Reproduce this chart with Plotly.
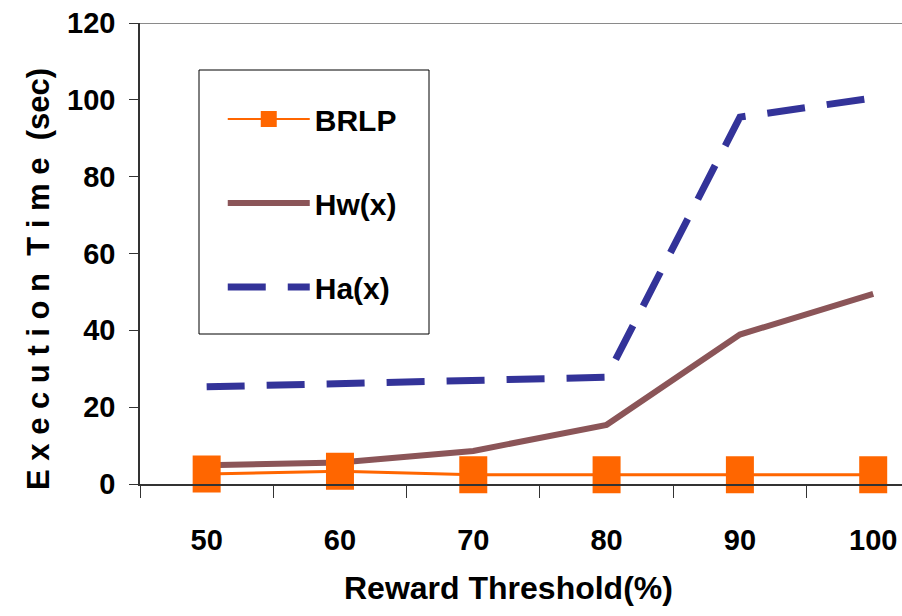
import plotly.graph_objects as go

# Reward threshold categories (%)
thresholds = ["50", "60", "70", "80", "90", "100"]

# Execution time in seconds for each method
brlp = [2.6, 3.3, 2.4, 2.4, 2.4, 2.4]
hw = [4.9, 5.6, 8.6, 15.4, 38.9, 49.5]
ha = [25.3, 26.0, 27.0, 27.8, 95.5, 100.5]

FONT = "Liberation Sans, Arial, sans-serif"
ORANGE = "#FF6600"
BROWN = "#8B5558"
NAVY = "#333399"

# plot area in pixels
L, R, T, B = 140, 0, 23, 132
W, H = 902, 616
PW, PH = W - L - R, H - T - B


def px(x):
    return (x - L) / PW


def py(y):
    return (H - B - y) / PH


fig = go.Figure()

# Ha(x): dashed navy line
fig.add_trace(go.Scatter(
    x=thresholds, y=ha, name="Ha(x)", mode="lines",
    line=dict(color=NAVY, width=7, dash="38px,22px"),
    legendgroup="ha", legendrank=3,
))

# Hw(x): thick solid brown line
fig.add_trace(go.Scatter(
    x=thresholds, y=hw, name="Hw(x)", mode="lines",
    line=dict(color=BROWN, width=6),
    legendgroup="hw", legendrank=2,
))

# BRLP: thin orange line with tall rectangular markers
fig.add_trace(go.Scatter(
    x=thresholds, y=brlp, name="BRLP", mode="lines+markers",
    line=dict(color=ORANGE, width=3),
    marker=dict(symbol="line-ns", size=26.4,
                line=dict(color=ORANGE, width=28)),
    cliponaxis=False,
    showlegend=False, legendgroup="brlp",
))

# Legend entry for BRLP with a square marker
fig.add_trace(go.Scatter(
    x=[None], y=[None], name="BRLP", mode="lines+markers",
    line=dict(color=ORANGE, width=2),
    marker=dict(symbol="square", size=16, color=ORANGE),
    legendgroup="brlp", legendrank=1,
))

fig.update_layout(
    width=W, height=H,
    margin=dict(l=L, r=R, t=T, b=B, pad=0, autoexpand=False),
    paper_bgcolor="white", plot_bgcolor="white",
    font=dict(family=FONT, color="black", weight="bold"),
    showlegend=True,
    legend=dict(
        x=0.1086, y=0.848, xanchor="left", yanchor="top",
        bgcolor="rgba(0,0,0,0)", borderwidth=0,
        font=dict(family=FONT, size=30, color="black", weight="bold"),
        itemwidth=82, tracegroupgap=42,
    ),
    shapes=[
        # legend frame
        dict(type="rect", xref="paper", yref="paper",
             x0=px(199), x1=px(429), y0=py(334), y1=py(70),
             line=dict(color="black", width=1), fillcolor="rgba(0,0,0,0)",
             layer="below"),
        # top border of the plot area
        dict(type="line", xref="paper", yref="y", x0=0, x1=1, y0=120, y1=120,
             line=dict(color="#8a8a8a", width=2)),
    ],
    annotations=[
        dict(text="Reward Threshold(%)", xref="paper", yref="paper",
             x=px(508), y=py(588),
             xanchor="center", yanchor="middle", showarrow=False,
             font=dict(family=FONT, size=32, color="black", weight="bold")),
        dict(text="E x e c u t i o n  T i m e  (sec)", xref="paper", yref="paper",
             x=px(38), y=py(279), textangle=-90,
             xanchor="center", yanchor="middle", showarrow=False,
             font=dict(family=FONT, size=31, color="black", weight="bold")),
    ],
)

fig.update_xaxes(
    type="category", range=[-0.5, 5.216],
    tickson="boundaries", ticks="outside", ticklen=12, tickwidth=1.2,
    tickcolor="#333333",
    showline=True, linecolor="#333333", linewidth=1.5,
    showgrid=False, zeroline=False,
    ticklabelstandoff=29,
    tickfont=dict(family=FONT, size=29, color="black", weight="bold"),
)

fig.update_yaxes(
    range=[0, 120], dtick=20, tick0=0,
    ticks="outside", ticklen=9, tickwidth=1.2, tickcolor="#333333",
    showline=True, linecolor="#333333", linewidth=1.5,
    showgrid=False, zeroline=False,
    ticklabelstandoff=8,
    tickfont=dict(family=FONT, size=29, color="black", weight="bold"),
)

fig.write_html("out.html")
